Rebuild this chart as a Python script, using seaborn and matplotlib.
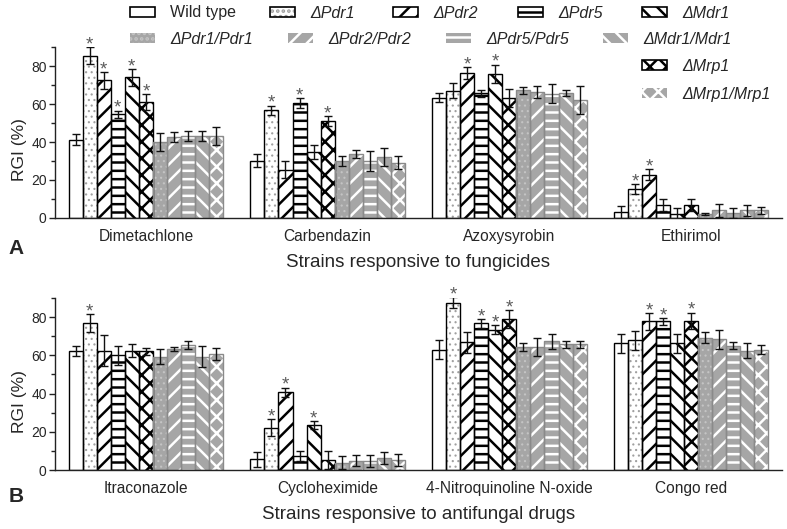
import numpy as np
import pandas as pd
import matplotlib.pyplot as plt
import matplotlib.patches as mpatches
from matplotlib.legend_handler import HandlerTuple
import seaborn as sns

sns.set_theme(style="ticks")
plt.rcParams['font.family'] = ['Liberation Sans', 'DejaVu Sans']
plt.rcParams['hatch.linewidth'] = 1.8

# strains, in bar order inside each group
strains = ["Wild type", "ΔPdr1", "ΔPdr2", "ΔPdr5", "ΔMdr1", "ΔMrp1",
           "ΔPdr1/Pdr1", "ΔPdr2/Pdr2", "ΔPdr5/Pdr5", "ΔMdr1/Mdr1", "ΔMrp1/Mrp1"]

# panel A: fungicides (rows = compound, cols = strain)
fungicides = ["Dimetachlone", "Carbendazin", "Azoxysyrobin", "Ethirimol"]
fungicide_mean = [
    [41.3, 85.5, 72.5, 54.5, 74.0, 61.0, 40.0, 42.6, 43.0, 43.0, 43.0],
    [30.2, 56.7, 25.4, 60.7, 34.8, 51.0, 30.2, 33.7, 30.2, 32.1, 29.0],
    [63.4, 66.9, 76.3, 65.7, 75.8, 63.2, 67.3, 66.4, 65.5, 66.0, 62.2],
    [3.0, 15.2, 22.8, 6.9, 2.2, 6.9, 2.0, 4.0, 2.5, 4.0, 4.0],
]
fungicide_sd = [
    [2.7, 4.3, 4.5, 2.0, 4.4, 4.2, 4.6, 2.4, 2.6, 2.7, 4.7],
    [3.5, 2.5, 4.4, 2.6, 3.5, 2.5, 2.6, 2.1, 5.3, 4.8, 3.4],
    [2.6, 4.0, 3.1, 1.8, 4.9, 4.9, 1.9, 3.1, 5.1, 1.6, 7.3],
    [3.5, 2.8, 2.8, 3.0, 3.0, 3.0, 0.5, 3.3, 2.5, 3.0, 2.0],
]
fungicide_sig = [
    [0, 1, 1, 1, 1, 1, 0, 0, 0, 0, 0],
    [0, 1, 0, 1, 0, 1, 0, 0, 0, 0, 0],
    [0, 0, 1, 0, 1, 0, 0, 0, 0, 0, 0],
    [0, 1, 1, 0, 0, 0, 0, 0, 0, 0, 0],
]

# panel B: antifungal drugs
drugs = ["Itraconazole", "Cycloheximide", "4-Nitroquinoline N-oxide", "Congo red"]
drug_mean = [
    [62.1, 77.0, 62.5, 60.0, 62.5, 62.1, 59.2, 63.4, 65.3, 59.2, 60.7],
    [5.6, 22.2, 40.6, 7.4, 23.6, 5.3, 3.9, 4.9, 4.9, 6.1, 5.3],
    [63.0, 87.5, 66.9, 76.7, 73.5, 79.1, 64.4, 64.4, 67.4, 65.7, 65.7],
    [66.2, 67.9, 77.9, 77.9, 66.2, 78.2, 69.2, 68.3, 65.1, 62.5, 63.0],
]
drug_sd = [
    [2.6, 4.6, 7.9, 4.8, 3.6, 1.9, 3.9, 1.2, 2.0, 5.5, 3.2],
    [3.9, 4.3, 2.5, 2.6, 2.2, 4.8, 3.5, 2.9, 3.2, 3.1, 3.0],
    [5.1, 2.8, 5.5, 2.2, 2.5, 4.6, 2.2, 4.8, 3.9, 2.0, 1.9],
    [4.8, 5.0, 4.4, 1.8, 4.8, 4.2, 3.0, 5.0, 2.0, 3.9, 2.3],
]
drug_sig = [
    [0, 1, 0, 0, 0, 0, 0, 0, 0, 0, 0],
    [0, 1, 1, 0, 1, 0, 0, 0, 0, 0, 0],
    [0, 1, 0, 1, 1, 1, 0, 0, 0, 0, 0],
    [0, 0, 1, 1, 0, 1, 0, 0, 0, 0, 0],
]

# look of each strain: fill, hatch, hatch colour, outline colour
GRAY = "#a6a6a6"
face = ["white"] * 6 + [GRAY] * 5
hatches = ["", "...", "//", "--", "\\\\", "xx", "...", "//", "--", "\\\\", "xx"]
hatch_col = ["black", "#a0a0a0", "black", "black", "black", "black",
             "#c4c4c4", "white", "white", "white", "white"]
outline = ["black"] * 6 + ["#8a8a8a"] * 5


def draw_panel(ax, cats, means, sds, sig, xlabel):
    rows = []
    for ci, c in enumerate(cats):
        for si, s in enumerate(strains):
            rows.append({"cat": c, "strain": s, "rgi": means[ci][si],
                         "sd": sds[ci][si], "sig": sig[ci][si]})
    df = pd.DataFrame(rows)
    sns.barplot(data=df, x="cat", y="rgi", hue="strain", order=cats,
                hue_order=strains, palette=dict(zip(strains, face)),
                width=0.85, errorbar=None, legend=False, ax=ax)
    bar_conts = list(ax.containers)
    for si, cont in enumerate(bar_conts):
        sub = df[df["strain"] == strains[si]].set_index("cat").loc[cats]
        for p, (_, r) in zip(cont.patches, sub.iterrows()):
            p.set_facecolor(face[si])
            p.set_edgecolor(hatch_col[si])
            p.set_linewidth(0)
            p.set_hatch(hatches[si])
            if si in (1, 6) and hasattr(p, "set_hatch_linewidth"):
                p.set_hatch_linewidth(0.8)
            ax.add_patch(mpatches.Rectangle((p.get_x(), 0), p.get_width(), p.get_height(),
                                            fill=False, edgecolor=outline[si], lw=1.0, zorder=2.5))
            xc = p.get_x() + p.get_width() / 2
            ax.errorbar(xc, r["rgi"], yerr=r["sd"], fmt="none", ecolor="#111111",
                        elinewidth=1.0, capsize=3, capthick=1.0, zorder=3)
            if r["sig"]:
                ax.text(xc, r["rgi"] + r["sd"] - 1.2, "*", ha="center", va="baseline",
                        fontsize=13.5, color="#5a5a5a")
    ax.set_xlim(-0.5, 3.5)
    ax.set_ylim(0, 90)
    ax.set_yticks([0, 20, 40, 60, 80])
    ax.set_yticks([10, 30, 50, 70, 90], minor=True)
    ax.tick_params(axis="y", which="major", length=4.5, width=1, labelsize=10, pad=1.5, color="#222222")
    ax.tick_params(axis="y", which="minor", length=3, width=1, color="#222222")
    ax.tick_params(axis="x", length=0, labelsize=11.2, pad=8)
    ax.set_xlabel(xlabel, fontsize=13.5, labelpad=7)
    ax.set_ylabel("RGI (%)", fontsize=12.5)
    ax.yaxis.set_label_coords(-0.038, 0.40)
    for s in ["left", "bottom"]:
        ax.spines[s].set_color("#222222")
        ax.spines[s].set_linewidth(1.0)
    sns.despine(ax=ax)


W, H = 787, 529
fig = plt.figure(figsize=(W / 100, H / 100), dpi=100)
ax_a = fig.add_axes([55 / W, 1 - 218 / H, 727 / W, 171 / H])
ax_b = fig.add_axes([55 / W, 1 - 470 / H, 727 / W, 172 / H])
draw_panel(ax_a, fungicides, fungicide_mean, fungicide_sd, fungicide_sig,
           "Strains responsive to fungicides")
draw_panel(ax_b, drugs, drug_mean, drug_sd, drug_sig,
           "Strains responsive to antifungal drugs")

fig.text(16 / W, 1 - 248 / H, "A", fontsize=15, fontweight="bold", ha="center", va="center")
fig.text(16 / W, 1 - 497 / H, "B", fontsize=15, fontweight="bold", ha="center", va="center")

# legend entries placed one by one (pixel positions of each swatch)
legend_x = [130, 270, 393, 518, 642, 642, 130, 288, 446, 603, 642]
legend_y = [13, 13, 13, 13, 13, 66, 39, 39, 39, 39, 94]

for si in range(len(strains)):
    fill = mpatches.Patch(facecolor=face[si], edgecolor=hatch_col[si], hatch=hatches[si], lw=0)
    if si < 6:
        edge = mpatches.Patch(fill=False, edgecolor="black", lw=1.2)
        h = (fill, edge)
    else:
        h = (fill,)
    leg = fig.legend([h], [strains[si]], loc="center left",
                     handler_map={tuple: HandlerTuple(ndivide=1, pad=0)},
                     bbox_to_anchor=(legend_x[si] / W, 1 - legend_y[si] / H), frameon=False,
                     fontsize=11.5, borderpad=0, borderaxespad=0, handlelength=1.55,
                     handleheight=0.65, handletextpad=0.95)
    if si > 0:
        leg.get_texts()[0].set_fontstyle("italic")

fig.savefig("out.png", dpi=100)
